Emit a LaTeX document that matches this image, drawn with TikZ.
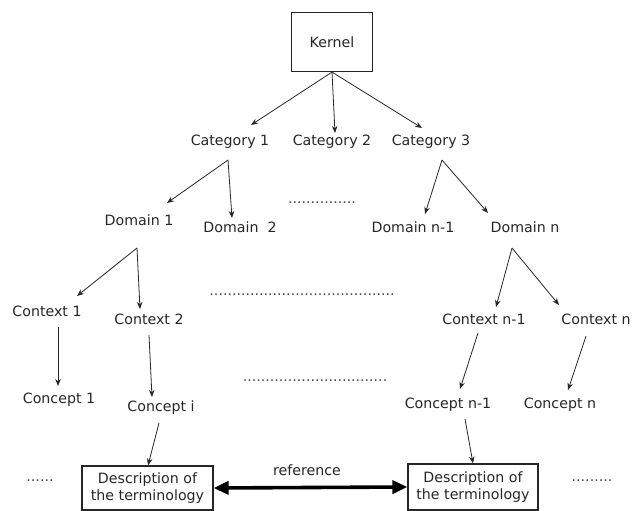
\documentclass[tikz,border=0pt]{standalone}
\usepackage{fontspec}
\setmainfont{DejaVu Sans}
\usetikzlibrary{arrows.meta}
\begin{document}
\begin{tikzpicture}[x=1pt,y=-1pt,
  lbl/.style={inner sep=0pt, text height=10pt, text depth=3pt, font=\fontsize{14.2}{17}\selectfont, text=black!85},
  dots/.style={inner sep=0pt, font=\fontsize{14.2}{17}\selectfont, text=black!70},
  box/.style={draw=black!85, line width=1.2pt, align=center, inner sep=0pt, font=\fontsize{14.2}{17.5}\selectfont, text=black!85},
  arr/.style={-{Stealth[length=7pt,width=5.5pt]}, line width=0.8pt, draw=black!85},
  bigarr/.style={{Triangle[length=15pt,width=13pt]}-{Triangle[length=15pt,width=13pt]}, line width=3.6pt, draw=black}
]
\useasboundingbox (0,0) rectangle (632,511);

% nodes
\node[box, minimum width=81pt, minimum height=59pt] (kernel) at (332,42) {Kernel};
\node[lbl] (cat1) at (230,142) {Category 1};
\node[lbl] (cat2) at (332,142) {Category 2};
\node[lbl] (cat3) at (431,142) {Category 3};
\node[lbl] (dom1) at (139,222) {Domain 1};
\node[lbl] (dom2) at (240,229) {Domain\ \ 2};
\node[lbl] (domn1) at (413,229) {Domain n-1};
\node[lbl] (domn) at (525,229) {Domain n};
\node[lbl] (ctx1) at (47,313) {Context 1};
\node[lbl] (ctx2) at (149,321) {Context 2};
\node[lbl] (ctxn1) at (484,321) {Context n-1};
\node[lbl] (ctxn) at (596,321) {Context n};
\node[lbl] (con1) at (59,400) {Concept 1};
\node[lbl] (coni) at (161,408) {Concept i};
\node[lbl] (conn1) at (448,405) {Concept n-1};
\node[lbl] (conn) at (560,405) {Concept n};
\node[box, minimum width=131pt, minimum height=44pt] (desc1) at (147.5,488) {Description of\\the terminology};
\node[box, minimum width=130pt, minimum height=46pt] (desc2) at (473,487) {Description of\\the terminology};
\node[lbl] (ref) at (307,472) {reference};

% dotted placeholders
\node[dots] (d1) at (322,203) {...............};
\node[dots] (d2) at (302,295) {.........................................};
\node[dots] (d3) at (315,381) {................................};
\node[dots] (d4) at (40,481) {......};
\node[dots] (d5) at (592,481) {.........};

% connectors
\draw[arr] (kernel.south) -- ([shift={(21,-17)}]cat1.center);
\draw[arr] (kernel.south) -- ([shift={(3,-9)}]cat2.center);
\draw[arr] (kernel.south) -- ([shift={(-9,-14)}]cat3.center);

\draw[arr] ([shift={(-2,18)}]cat1.center) -- ([shift={(28,-19)}]dom1.center);
\draw[arr] ([shift={(-2,18)}]cat1.center) -- ([shift={(-8,-11)}]dom2.center);
\draw[arr] ([shift={(11,18)}]cat3.center) -- ([shift={(12,-15)}]domn1.center);
\draw[arr] ([shift={(11,18)}]cat3.center) -- ([shift={(-37,-16)}]domn.center);

\draw[arr] ([shift={(-2,26)}]dom1.center) -- ([shift={(30,-17)}]ctx1.center);
\draw[arr] ([shift={(-2,26)}]dom1.center) -- ([shift={(-9,-12)}]ctx2.center);
\draw[arr] ([shift={(-13,19)}]domn.center) -- ([shift={(12,-14)}]ctxn1.center);
\draw[arr] ([shift={(-13,19)}]domn.center) -- ([shift={(-37,-16)}]ctxn.center);

\draw[arr] ([shift={(11,14)}]ctx1.center) -- ([shift={(-1,-14)}]con1.center);
\draw[arr] ([shift={(0,14)}]ctx2.center) -- ([shift={(-9,-11)}]coni.center);
\draw[arr] ([shift={(-6,12)}]ctxn1.center) -- ([shift={(12,-16)}]conn1.center);
\draw[arr] ([shift={(-10,15)}]ctxn.center) -- ([shift={(8,-15)}]conn.center);

\draw[arr] ([shift={(-2,15)}]coni.center) -- ([xshift=0.5pt]desc1.north);
\draw[arr] ([shift={(17,14)}]conn1.center) -- (desc2.north);

\draw[bigarr] (desc1.east) -- (desc2.west);
\end{tikzpicture}
\end{document}
